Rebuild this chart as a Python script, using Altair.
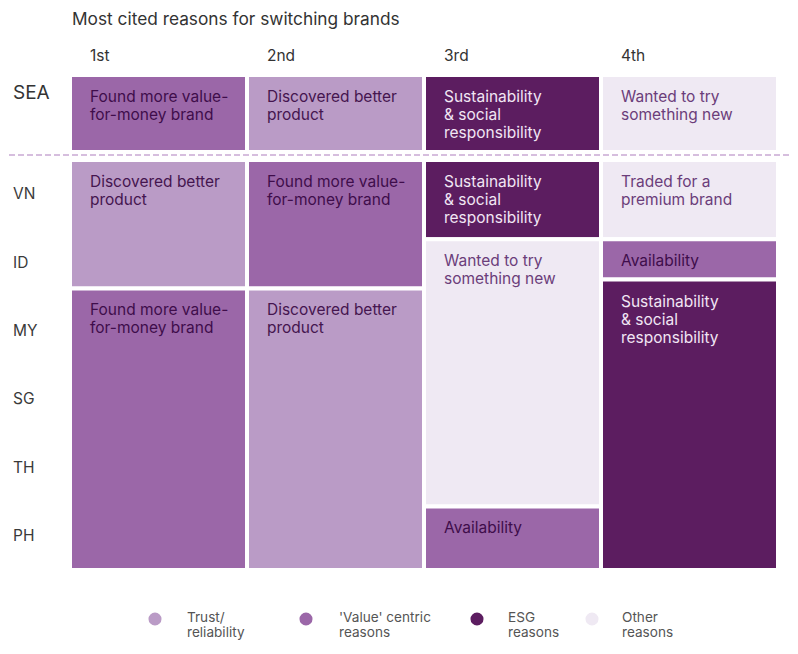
import altair as alt
import pandas as pd

# ---- data ----
categories = ["Trust/reliability", "'Value' centric reasons", "ESG reasons", "Other reasons"]
legend_labels = ["Trust/\nreliability", "'Value' centric\nreasons", "ESG\nreasons", "Other\nreasons"]
colors = ["#ba9bc6", "#9b67a8", "#5c1d60", "#efe9f3"]
text_colors = ["#45154f", "#3f0d4b", "#f1e6f4", "#6b3d7a"]
ranks = ["1st", "2nd", "3rd", "4th"]
countries = ["VN", "ID", "MY", "SG", "TH", "PH"]

# SEA (regional) row: one block per rank
sea_reason = ["Found more value-\nfor-money brand", "Discovered better\nproduct",
              "Sustainability\n& social\nresponsibility", "Wanted to try\nsomething new"]
sea_cat = ["'Value' centric reasons", "Trust/reliability", "ESG reasons", "Other reasons"]
sea_span = [-1.244, -0.117]

# Country blocks: rank column, first row, last row (in country-row units, VN=0)
block_col = [0, 0, 1, 1, 2, 2, 2, 3, 3, 3]
block_start = [0, 1.88, 0, 1.88, 0, 1.16, 5.07, 0, 1.16, 1.75]
block_end = [1.88, 6, 1.88, 6, 1.16, 5.07, 6, 1.16, 1.75, 6]
block_reason = ["Discovered better\nproduct", "Found more value-\nfor-money brand",
                "Found more value-\nfor-money brand", "Discovered better\nproduct",
                "Sustainability\n& social\nresponsibility", "Wanted to try\nsomething new", "Availability",
                "Traded for a\npremium brand", "Availability", "Sustainability\n& social\nresponsibility"]
block_cat = ["Trust/reliability", "'Value' centric reasons",
             "'Value' centric reasons", "Trust/reliability",
             "ESG reasons", "Other reasons", "'Value' centric reasons",
             "Other reasons", "'Value' centric reasons", "ESG reasons"]

# ---- tables ----
tc = dict(zip(categories, text_colors))
sea = pd.DataFrame({
    "x0": list(range(4)), "x1": [i + 1 for i in range(4)],
    "y0": [sea_span[0]] * 4, "y1": [sea_span[1]] * 4,
    "label": sea_reason, "cat": sea_cat,
})
blocks = pd.DataFrame({
    "x0": block_col, "x1": [c + 1 for c in block_col],
    "y0": block_start, "y1": block_end,
    "label": block_reason, "cat": block_cat,
})
cells = pd.concat([sea, blocks], ignore_index=True)
cells["tcolor"] = cells["cat"].map(tc)

rank_df = pd.DataFrame({"rank": ranks, "x0": list(range(4))})
row_df = pd.DataFrame({"country": countries, "pos": [i + 0.5 for i in range(len(countries))]})

FONT = "Inter"
xs = alt.Scale(domain=[0, 4])
ys = alt.Scale(domain=[0, 6], reverse=True)

rects = alt.Chart(cells).mark_rect(stroke="white", strokeWidth=4).encode(
    x=alt.X("x0:Q", scale=xs, axis=None),
    x2="x1:Q",
    y=alt.Y("y0:Q", scale=ys, axis=None),
    y2="y1:Q",
    color=alt.Color("cat:N", scale=alt.Scale(domain=categories, range=colors), legend=None),
)

labels = alt.Chart(cells).mark_text(
    align="left", baseline="top", dx=20, dy=15, lineBreak="\n", lineHeight=18,
    fontSize=15.5, font=FONT,
).encode(
    x=alt.X("x0:Q", scale=xs, axis=None),
    y=alt.Y("y0:Q", scale=ys, axis=None),
    text="label:N",
    fill=alt.Fill("tcolor:N", scale=None),
)

headers = alt.Chart(rank_df).mark_text(
    align="left", baseline="middle", dx=20, fontSize=15.5, font=FONT, color="#333333"
).encode(
    x=alt.X("x0:Q", scale=xs, axis=None),
    y=alt.value(-104),
    text="rank:N",
)

rowlabels = alt.Chart(row_df).mark_text(
    align="left", baseline="middle", fontSize=15.5, font=FONT, color="#3a3a3a"
).encode(
    x=alt.value(-57),
    y=alt.Y("pos:Q", scale=ys, axis=None),
    text="country:N",
)

one = pd.DataFrame({"t": ["Most cited reasons for switching brands"], "s": ["SEA"]})
title = alt.Chart(one).mark_text(
    align="left", baseline="middle", fontSize=17.3, font=FONT, color="#333333"
).encode(x=alt.value(2), y=alt.value(-140), text="t:N")

sea_label = alt.Chart(one).mark_text(
    align="left", baseline="middle", fontSize=19, font=FONT, color="#333333"
).encode(x=alt.value(-57), y=alt.value(-67), text="s:N")

divider = alt.Chart(one).mark_rule(
    strokeDash=[6, 3], color="#c9a9d3", strokeWidth=1.4
).encode(x=alt.value(-70), x2=alt.value(728), y=alt.value(-5))

# manual legend
leg_dot_x = [85, 236, 407, 522]
leg_txt_x = [117, 269, 438, 552]
legend_layers = []
for i, cat in enumerate(categories):
    d = pd.DataFrame({"cat": [cat], "lab": [legend_labels[i]]})
    legend_layers.append(
        alt.Chart(d).mark_point(filled=True, size=170, shape="circle", opacity=1).encode(
            x=alt.value(leg_dot_x[i]), y=alt.value(459), color=alt.value(colors[i])
        )
    )
    legend_layers.append(
        alt.Chart(d).mark_text(
            align="left", baseline="middle", lineBreak="\n", lineHeight=15,
            fontSize=13.6, font=FONT, color="#555555"
        ).encode(x=alt.value(leg_txt_x[i]), y=alt.value(458), text="lab:N")
    )

chart = alt.layer(
    rects, labels, headers, rowlabels, title, sea_label, divider, *legend_layers
).properties(
    width=708, height=410,
    padding={"left": 62, "top": 152, "right": 12, "bottom": 76},
    autosize=alt.AutoSizeParams(type="none"),
    background="white",
).configure_view(stroke=None)

chart.save("out.html", embed_options={"renderer": "svg", "actions": False})
